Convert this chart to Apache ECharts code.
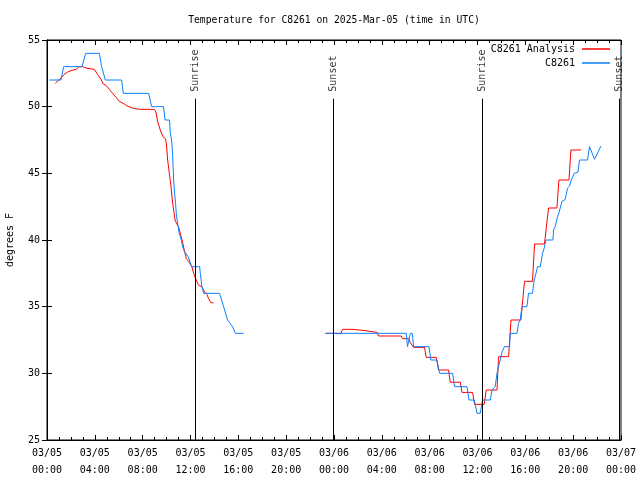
<!DOCTYPE html>
<html>
<head>
<meta charset="utf-8">
<script src="https://cdn.jsdelivr.net/npm/echarts@6/dist/echarts.min.js"></script>
<style>html,body{margin:0;padding:0;background:#fff}#c{width:640px;height:480px}</style>
</head>
<body>
<div id="c"></div>
<script>
// Hours since 03/05 00:00 UTC
var xTickLabels = ['03/05\n00:00','03/05\n04:00','03/05\n08:00','03/05\n12:00','03/05\n16:00','03/05\n20:00',
  '03/06\n00:00','03/06\n04:00','03/06\n08:00','03/06\n12:00','03/06\n16:00','03/06\n20:00','03/07\n00:00'];

var analysisTimes = [0.69,0.85,1.00,1.22,1.45,1.73,2.00,2.43,2.70,2.98,3.26,3.68,3.96,4.24,4.52,4.71,4.93,5.21,5.49,5.77,
  6.05,6.46,6.74,7.16,7.72,8.97,9.11,9.25,9.47,9.70,9.90,9.98,10.09,10.23,10.37,10.48,10.59,10.73,10.87,11.00,
  11.29,11.48,11.65,11.84,12.12,12.26,12.48,12.68,12.96,13.18,13.38,13.51,13.71,13.93,
  18.0,
  23.29,24.58,24.72,25.58,25.64,26.61,26.67,27.59,27.73,29.62,29.73,30.24,30.38,30.65,31.57,31.71,32.55,32.74,33.58,33.72,
  34.56,34.70,35.59,35.75,36.56,36.73,37.63,37.76,38.60,38.80,39.63,39.93,40.60,40.77,41.60,41.94,42.64,42.81,43.65,43.81,44.65];
var analysisTemps = [51.75,51.75,52.0,52.2,52.43,52.6,52.7,52.8,53.0,53.0,52.9,52.83,52.8,52.4,52.05,51.7,51.6,51.3,51.0,50.7,
  50.4,50.2,50.03,49.9,49.8,49.8,49.6,48.9,48.25,47.75,47.6,47.25,46.0,45.0,44.0,43.0,42.25,41.4,41.25,41.0,
  40.0,39.25,38.6,38.4,38.0,37.5,37.0,36.6,36.5,36.1,35.9,35.6,35.3,35.3,
  null,
  33.0,33.0,33.3,33.3,33.2,33.2,33.07,33.07,32.8,32.8,32.6,32.6,32.3,31.95,31.95,31.2,31.2,30.25,30.25,29.33,
  29.33,28.57,28.57,27.67,27.67,28.75,28.75,31.25,31.25,34.0,34.0,36.9,36.9,39.7,39.7,42.4,42.4,44.5,44.5,46.75,46.75];

var stationTimes = [0.19,1.17,1.39,2.93,3.23,4.38,4.57,4.88,6.24,6.38,8.50,8.75,9.75,9.87,10.25,10.31,10.42,10.50,10.59,10.67,
  10.75,10.81,10.92,11.06,11.23,11.34,11.50,11.81,12.09,12.76,12.82,12.96,13.10,14.43,14.77,15.10,15.52,15.75,16.44,
  18.0,
  23.29,30.04,30.15,30.38,30.55,30.65,31.94,32.10,32.60,32.83,33.92,34.08,35.12,35.29,35.73,35.96,36.23,36.42,37.07,
  37.21,37.48,37.63,37.76,37.90,38.04,38.26,38.68,38.74,39.30,39.43,39.57,39.72,40.13,40.27,40.60,40.74,40.89,41.02,41.25,
  41.44,41.58,41.72,42.31,42.36,42.50,42.69,42.83,43.06,43.34,43.53,43.70,43.84,44.09,44.40,44.53,45.20,45.37,45.79,46.32];
var stationTemps = [52,52,53,53,54,54,53,52,52,51,51,50,50,49,49,48.0,47.5,46.5,44.5,43.5,
  42.75,42.0,41.25,40.5,40.0,39.5,39.12,38.75,38.0,38.0,37.5,36.5,36.0,36.0,35.0,34.0,33.5,33.0,33.0,
  null,
  33,33,32,33,33,32,32,31,31,30,30,29,29,28,28,27,27,28,28,
  28.75,29,30,30.5,31,31.6,32,32,33,33,33.75,34,35,35,36,36,37,37.5,38,38,
  39,39.4,40,40,40.75,41,41.75,42.1,42.9,43.05,43.9,44.05,44.5,45,45.1,46,46,47,46.05,47.05];

var sunTimes = [12.40, 23.94, 36.42, 47.87];
var sunNames = ['Sunrise', 'Sunset', 'Sunrise', 'Sunset'];
var sunLineTop = 50.6;

function pairs(t, v) { return t.map(function (x, i) { return [x, v[i]]; }); }

var FONT = 'DejaVu Sans Mono';
var chart = echarts.init(document.getElementById('c'), null, {renderer: 'canvas'});
var xCommon = {
  type: 'value', min: 0, max: 48, interval: 4,
  axisLine: {show: true, lineStyle: {color: '#000', width: 1}},
  axisTick: {show: true, inside: true, length: 5, lineStyle: {color: '#000'}},
  minorTick: {show: true, splitNumber: 4, length: 3, lineStyle: {color: '#000'}},
  splitLine: {show: false}, minorSplitLine: {show: false}
};
var yCommon = {
  type: 'value', min: 25, max: 55, interval: 5,
  axisLine: {show: true, lineStyle: {color: '#000', width: 1}},
  axisTick: {show: true, inside: true, length: 5, lineStyle: {color: '#000'}},
  splitLine: {show: false}
};
chart.setOption({
  animation: false,
  backgroundColor: '#fff',
  textStyle: {fontFamily: FONT},
  title: {
    text: 'Temperature for C8261 on 2025-Mar-05 (time in UTC)',
    left: 329, top: 10, textAlign: 'center',
    textStyle: {fontFamily: FONT, fontSize: 9.7, fontWeight: 'normal', color: '#000'}
  },
  legend: {
    orient: 'vertical', right: 25, top: 38, align: 'right',
    icon: 'rect', itemWidth: 28, itemHeight: 1.5, itemGap: 2,
    textStyle: {fontFamily: FONT, fontSize: 10, color: '#000', lineHeight: 12, padding: [0, 2, 0, 0]},
    data: ['C8261 Analysis', 'C8261']
  },
  grid: {left: 47, right: 19, top: 40, bottom: 40, show: true, borderColor: '#000', borderWidth: 1,
    backgroundColor: 'transparent', containLabel: false, outerBoundsMode: 'none'},
  xAxis: [
    Object.assign({}, xCommon, {
      position: 'bottom',
      axisLabel: {
        show: true, margin: 5, color: '#000', fontFamily: FONT, fontSize: 10, lineHeight: 17,
        formatter: function (v) { return xTickLabels[Math.round(v / 4)]; }
      }
    }),
    Object.assign({}, xCommon, {position: 'top', axisLabel: {show: false}})
  ],
  yAxis: [
    Object.assign({}, yCommon, {
      position: 'left',
      name: 'degrees F', nameLocation: 'middle', nameGap: 32, nameRotate: 90,
      nameTextStyle: {fontFamily: FONT, fontSize: 10, color: '#000'},
      axisLabel: {show: true, margin: 7, color: '#000', fontFamily: FONT, fontSize: 10}
    }),
    Object.assign({}, yCommon, {position: 'right', axisLabel: {show: false}})
  ],
  series: [
    {
      name: 'C8261 Analysis', type: 'line', symbol: 'none', showSymbol: false,
      connectNulls: false,
      lineStyle: {color: '#ff0000', width: 1}, itemStyle: {color: '#ff0000'},
      data: pairs(analysisTimes, analysisTemps)
    },
    {
      name: 'C8261', type: 'line', symbol: 'none', showSymbol: false,
      connectNulls: false,
      lineStyle: {color: '#0a80ff', width: 1}, itemStyle: {color: '#0a80ff'},
      data: pairs(stationTimes, stationTemps)
    },
    {
      name: 'sun', type: 'scatter', symbolSize: 0, silent: true,
      data: sunTimes.map(function (t) { return [t, sunLineTop]; }),
      label: {
        show: true, position: 'top', distance: 7, rotate: 90, align: 'left', verticalAlign: 'middle',
        fontFamily: FONT, fontSize: 10, color: '#000',
        formatter: function (p) { return sunNames[p.dataIndex]; }
      },
      markLine: {
        silent: true, symbol: 'none', animation: false,
        lineStyle: {color: '#000', width: 1, type: 'solid'},
        label: {show: false},
        data: sunTimes.map(function (t) { return [{coord: [t, sunLineTop]}, {coord: [t, 25]}]; })
      }
    }
  ]
});
</script>
</body>
</html>
